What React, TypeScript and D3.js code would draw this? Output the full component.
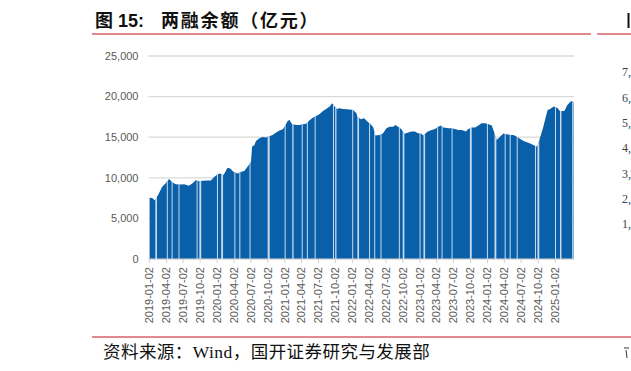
import React from 'react';
import * as d3 from 'd3';

// 两融余额 (亿元) at roughly two-week steps
const dates = [
  '2019-01-02', '2019-01-16', '2019-01-31', '2019-02-21', '2019-03-11', '2019-03-29', '2019-04-17', '2019-05-06',
  '2019-05-23', '2019-06-19', '2019-07-08', '2019-08-02', '2019-08-21', '2019-09-09', '2019-09-26', '2019-10-14',
  '2019-11-11', '2019-11-29', '2019-12-17', '2020-01-03', '2020-01-17', '2020-02-06', '2020-02-27', '2020-03-13',
  '2020-03-31', '2020-04-22', '2020-05-11', '2020-05-28', '2020-06-15', '2020-06-29', '2020-07-03', '2020-07-09',
  '2020-07-21', '2020-07-30', '2020-08-17', '2020-09-04', '2020-09-22', '2020-10-12', '2020-10-28', '2020-11-16',
  '2020-12-04', '2020-12-22', '2020-12-31', '2021-01-18', '2021-01-27', '2021-02-10', '2021-03-04', '2021-03-22',
  '2021-04-09', '2021-04-27', '2021-05-17', '2021-06-02', '2021-06-21', '2021-07-09', '2021-07-27', '2021-08-13',
  '2021-09-01', '2021-09-15', '2021-09-28', '2021-10-11', '2021-10-25', '2021-11-12', '2021-11-30', '2021-12-17',
  '2022-01-06', '2022-01-14', '2022-01-24', '2022-01-28', '2022-02-16', '2022-03-07', '2022-03-24', '2022-04-11',
  '2022-04-25', '2022-05-06', '2022-05-30', '2022-06-17', '2022-07-05', '2022-07-22', '2022-08-10', '2022-08-22',
  '2022-09-06', '2022-09-23', '2022-10-10', '2022-10-31', '2022-11-17', '2022-12-05', '2022-12-23', '2023-01-10',
  '2023-01-20', '2023-02-13', '2023-03-06', '2023-03-24', '2023-04-11', '2023-04-25', '2023-05-09', '2023-06-05',
  '2023-06-21', '2023-07-10', '2023-07-28', '2023-08-15', '2023-08-28', '2023-09-08', '2023-09-20', '2023-10-09',
  '2023-10-27', '2023-11-14', '2023-12-01', '2023-12-20', '2024-01-08', '2024-01-25', '2024-02-06', '2024-02-21',
  '2024-03-11', '2024-03-28', '2024-04-15', '2024-05-06', '2024-05-21', '2024-06-07', '2024-06-27', '2024-07-15',
  '2024-08-02', '2024-08-20', '2024-09-06', '2024-09-27', '2024-10-14', '2024-10-28', '2024-11-08', '2024-11-22',
  '2024-12-06', '2024-12-25', '2025-01-13', '2025-01-27', '2025-02-21', '2025-03-07', '2025-03-25', '2025-04-03',
  '2025-04-11',
];
const balance = [
  7540, 7500, 7200, 8080, 8900, 9310, 9840, 9430,
  9220, 9180, 9220, 9020, 9300, 9720, 9590, 9630,
  9670, 9670, 10090, 10420, 10540, 10330, 11230, 11150,
  10700, 10540, 10750, 10830, 11400, 11810, 12000, 13840,
  14020, 14545, 14880, 15040, 14960, 15160, 15280, 15570,
  15810, 15980, 16300, 17040, 17130, 16600, 16500, 16500,
  16600, 16670, 17130, 17410, 17620, 17860, 18230, 18480,
  18770, 19180, 18770, 18480, 18560, 18480, 18440, 18400,
  18360, 18150, 17950, 17540, 17210, 17340, 16920, 16600,
  16180, 15200, 15280, 15490, 16100, 16300, 16300, 16510,
  16300, 16020, 15410, 15570, 15690, 15690, 15490, 15410,
  15200, 15690, 15900, 16020, 16300, 16430, 16180, 16100,
  16100, 16020, 15900, 15900, 15780, 15690, 16020, 16180,
  16180, 16430, 16720, 16720, 16600, 16430, 15690, 14670,
  15080, 15450, 15370, 15280, 15280, 15080, 14790, 14540,
  14380, 14210, 14050, 13810, 15080, 16100, 17130, 18360,
  18480, 18770, 18640, 18230, 18230, 18890, 19380, 19460,
  19300,
];

// market closures that leave gaps between the daily columns
const holidayStarts = [
  '2019-02-02', '2019-04-05', '2019-05-01', '2019-06-07', '2019-09-13', '2019-09-28',
  '2020-01-01', '2020-01-24', '2020-04-04', '2020-05-01', '2020-06-25', '2020-10-01',
  '2021-01-01', '2021-02-11', '2021-04-03', '2021-05-01', '2021-06-12', '2021-09-19', '2021-10-01',
  '2022-01-01', '2022-01-29', '2022-04-02', '2022-04-30', '2022-06-03', '2022-09-10', '2022-10-01',
  '2022-12-31', '2023-01-21', '2023-04-05', '2023-04-29', '2023-06-22', '2023-09-29',
  '2023-12-30', '2024-02-09', '2024-04-04', '2024-05-01', '2024-06-08', '2024-09-15', '2024-09-28',
  '2025-01-01', '2025-01-28', '2025-04-04',
];
const holidayEnds = [
  '2019-02-10', '2019-04-07', '2019-05-05', '2019-06-09', '2019-09-15', '2019-10-07',
  '2020-01-01', '2020-02-02', '2020-04-06', '2020-05-05', '2020-06-28', '2020-10-11',
  '2021-01-03', '2021-02-17', '2021-04-05', '2021-05-05', '2021-06-14', '2021-09-21', '2021-10-07',
  '2022-01-03', '2022-02-06', '2022-04-05', '2022-05-04', '2022-06-05', '2022-09-12', '2022-10-09',
  '2023-01-02', '2023-01-29', '2023-04-05', '2023-05-03', '2023-06-25', '2023-10-08',
  '2024-01-01', '2024-02-18', '2024-04-07', '2024-05-05', '2024-06-10', '2024-09-17', '2024-10-07',
  '2025-01-01', '2025-02-04', '2025-04-06',
];

const xTickLabels = [
  '2019-01-02', '2019-04-02', '2019-07-02', '2019-10-02', '2020-01-02', '2020-04-02', '2020-07-02',
  '2020-10-02', '2021-01-02', '2021-04-02', '2021-07-02', '2021-10-02', '2022-01-02', '2022-04-02',
  '2022-07-02', '2022-10-02', '2023-01-02', '2023-04-02', '2023-07-02', '2023-10-02', '2024-01-02',
  '2024-04-02', '2024-07-02', '2024-10-02', '2025-01-02',
];
const yTicks = [0, 5000, 10000, 15000, 20000, 25000];

// what is left visible of the neighbouring chart's axis at the page edge
const neighbourLabels = ['7,', '6,', '5,', '4,', '3,', '2,', '1,'];

const W = 631;
const H = 371;
const parse = d3.utcParse('%Y-%m-%d');
const DAY = 86400000;

export default function App() {
  const data = dates.map((d, i) => ({ date: parse(d) as Date, value: balance[i] }));

  const x = d3
    .scaleUtc()
    .domain([data[0].date, data[data.length - 1].date])
    .range([149.6, 573.5]);
  const y = d3.scaleLinear().domain([0, 25000]).range([259, 56]);

  const area = d3
    .area<{ date: Date; value: number }>()
    .x((d) => x(d.date))
    .y0(y(0))
    .y1((d) => y(d.value));

  const gaps = holidayStarts.map((s, i) => {
    const a = parse(s) as Date;
    const b = new Date((parse(holidayEnds[i]) as Date).getTime() + DAY);
    return { x0: x(a), x1: x(b) };
  });

  const n = d3.scaleLinear().domain([0, 6]).range([72, 224]);
  const sans = '"Liberation Sans", Arial, sans-serif';
  const cjk = '"Liberation Sans", "Noto Sans CJK SC", sans-serif';
  const serif = '"Liberation Serif", "Noto Sans CJK SC", serif';

  return (
    <svg width={W} height={H} style={{ position: 'absolute', left: 0, top: 0, background: '#fff' }}>
      <defs>
        <clipPath id="areaClip">
          <path d={area(data) || ''} />
        </clipPath>
      </defs>

      {/* title */}
      <text x={95} y={27} fontFamily={cjk} fontWeight="bold" fontSize={18} fill="#111">
        图 15:
      </text>
      <text x={161} y={27} fontFamily={cjk} fontWeight="bold" fontSize={18} letterSpacing={1.8} fill="#111">
        两融余额（亿元）
      </text>
      <line x1={92} x2={591} y1={34} y2={34} stroke="#d8626a" strokeWidth={1.5} />
      <line x1={597} x2={W} y1={34} y2={34} stroke="#d8626a" strokeWidth={1.5} />
      <line x1={628.5} x2={628.5} y1={13} y2={28} stroke="#111" strokeWidth={2} />

      {/* grid */}
      {yTicks.map((t) => (
        <g key={t}>
          <line x1={148.5} x2={574} y1={y(t)} y2={y(t)} stroke="#d9d9d9" strokeWidth={1.3} />
          <text x={138.5} y={y(t)} dy="0.35em" textAnchor="end" fontFamily={sans} fontSize={11} fill="#595959">
            {d3.format(',')(t)}
          </text>
        </g>
      ))}

      {/* balance columns */}
      <path d={area(data) || ''} fill="#0a5fa9" />
      <g clipPath="url(#areaClip)">
        {gaps.map((g, i) => (
          <rect key={i} x={g.x0} y={50} width={Math.max(1, g.x1 - g.x0)} height={210} fill="#e8f0f8" opacity={0.85} />
        ))}
      </g>

      {/* x axis */}
      <line x1={148.5} x2={574} y1={259} y2={259} stroke="#d9d9d9" strokeWidth={1} />
      {xTickLabels.map((t) => {
        const tx = x(parse(t) as Date);
        return (
          <g key={t}>
            <line x1={tx} x2={tx} y1={259} y2={263} stroke="#d0d0d0" strokeWidth={1} />
            <text
              transform={`translate(${tx},267) rotate(-90)`}
              dy="0.35em"
              textAnchor="end"
              fontFamily={sans}
              fontSize={11}
              fill="#595959"
            >
              {t}
            </text>
          </g>
        );
      })}

      {/* neighbour chart axis, cut off by the page edge */}
      {neighbourLabels.map((t, i) => (
        <text key={t} x={622} y={n(i)} dy="0.35em" fontFamily={serif} fontSize={12} fill="#404040">
          {t}
        </text>
      ))}

      {/* footer */}
      <line x1={92} x2={W} y1={337} y2={337} stroke="#d8626a" strokeWidth={1.5} />
      <text x={103} y={358} fontFamily={serif} fontSize={17.5} letterSpacing={0.45} fill="#111">
        资料来源：Wind，国开证券研究与发展部
      </text>
      <line x1={624} x2={629} y1={348} y2={348} stroke="#333" strokeWidth={1} />
      <line x1={626} x2={627} y1={350} y2={358} stroke="#333" strokeWidth={1} />
    </svg>
  );
}
